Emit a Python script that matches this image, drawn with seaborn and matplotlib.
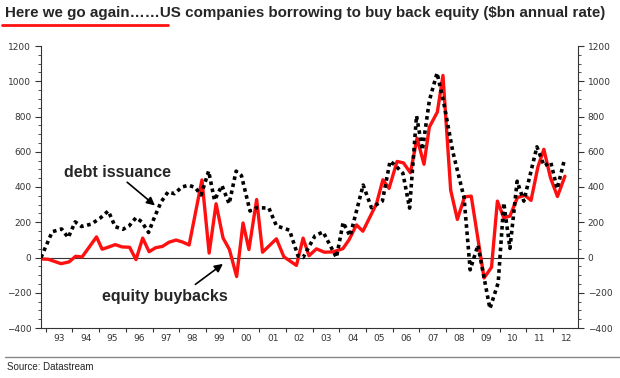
import numpy as np
import pandas as pd
import matplotlib
matplotlib.use("Agg")
import matplotlib.pyplot as plt
import seaborn as sns
from matplotlib.ticker import MultipleLocator, FixedLocator, FixedFormatter

sns.set_style("white")
plt.rcParams['font.family'] = ['Liberation Sans', 'DejaVu Sans']

# equity buybacks ($bn annual rate), decimal year
buyback_dates = [1992.82, 1993.09, 1993.57, 1993.87, 1994.12, 1994.36, 1994.90, 1995.11,
                 1995.33, 1995.60, 1995.86, 1996.14, 1996.38, 1996.63, 1996.87, 1997.11,
                 1997.37, 1997.62, 1997.88, 1998.12, 1998.37, 1998.85, 1999.12, 1999.38,
                 1999.64, 1999.88, 2000.15, 2000.39, 2000.61, 2000.90, 2001.12, 2001.64,
                 2001.92, 2002.39, 2002.64, 2002.86, 2003.14, 2003.44, 2003.76, 2004.13,
                 2004.36, 2004.64, 2004.88, 2005.39, 2005.63, 2005.86, 2006.16, 2006.40,
                 2006.66, 2006.91, 2007.17, 2007.37, 2007.67, 2007.88, 2008.17, 2008.42,
                 2008.69, 2008.94, 2009.42, 2009.70, 2009.92, 2010.16, 2010.39, 2010.67,
                 2010.95, 2011.18, 2011.44, 2011.66, 2011.91, 2012.17, 2012.45]
buyback_values = [-8, -10, -35, -25, 7, 3, 117, 47,
                  58, 73, 60, 58, -12, 110, 33, 55,
                  63, 87, 99, 88, 71, 440, 25, 305,
                  111, 45, -108, 196, 45, 329, 30, 106,
                  4, -45, 110, 10, 49, 30, 32, 50,
                  100, 185, 149, 305, 441, 392, 545, 537,
                  481, 677, 529, 740, 825, 1033, 382, 216,
                  344, 348, -116, -55, 320, 225, 235, 340,
                  353, 324, 515, 614, 452, 346, 461]

# debt issuance ($bn annual rate), decimal year
debt_dates = [1992.82, 1993.24, 1993.59, 1993.84, 1994.10, 1994.34, 1994.70, 1995.05,
              1995.34, 1995.60, 1995.89, 1996.12, 1996.38, 1996.59, 1996.85, 1997.07,
              1997.32, 1997.58, 1997.82, 1998.10, 1998.35, 1998.59, 1998.82, 1999.10,
              1999.32, 1999.60, 1999.87, 2000.13, 2000.33, 2000.65, 2000.91, 2001.36,
              2001.64, 2002.13, 2002.45, 2002.64, 2003.09, 2003.39, 2003.89, 2004.14,
              2004.40, 2004.89, 2005.20, 2005.61, 2005.90, 2006.12, 2006.38, 2006.63,
              2006.89, 2007.11, 2007.37, 2007.66, 2007.92, 2008.25, 2008.67, 2008.90,
              2009.19, 2009.64, 2009.95, 2010.16, 2010.39, 2010.66, 2010.91, 2011.40,
              2011.67, 2011.92, 2012.16, 2012.44]
debt_values = [0, 146, 162, 113, 202, 176, 189, 225,
               264, 175, 160, 179, 226, 203, 142, 228,
               315, 372, 362, 400, 410, 398, 355, 490,
               325, 408, 305, 490, 465, 264, 283, 280,
               180, 155, 9, 0, 124, 145, 0, 199,
               122, 411, 283, 320, 547, 519, 478, 280,
               804, 610, 890, 1047, 870, 600, 340, -70,
               70, -290, -143, 310, 52, 433, 320, 628,
               520, 540, 390, 560]

year_labels = ['93', '94', '95', '96', '97', '98', '99', '00', '01', '02',
               '03', '04', '05', '06', '07', '08', '09', '10', '11', '12']

buybacks = pd.DataFrame({'date': buyback_dates, 'value': buyback_values})
debt = pd.DataFrame({'date': debt_dates, 'value': debt_values})

fig = plt.figure(figsize=(6.2, 3.78), dpi=100)
ax = fig.add_axes([41 / 620, 1 - 328 / 378, (578 - 41) / 620, (328 - 46) / 378])

ax.axhline(0, color='#333333', lw=0.8, zorder=1)
sns.lineplot(data=debt, x='date', y='value', ax=ax, color='black', lw=2.6,
             linestyle=(0, (1, 1)), zorder=3)
sns.lineplot(data=buybacks, x='date', y='value', ax=ax, color='#ff1010', lw=2.4, zorder=2)

ax.set_xlim(1992.82, 2012.94)
ax.set_ylim(-400, 1200)
ax.yaxis.set_major_locator(MultipleLocator(200))
ax.yaxis.set_minor_locator(MultipleLocator(50))
years = 1993 + np.arange(len(year_labels) + 1)
ax.xaxis.set_major_locator(FixedLocator(years))
ax.xaxis.set_major_formatter(FixedFormatter([''] * len(years)))
ax.xaxis.set_minor_locator(FixedLocator(years[:-1] + 0.5))
ax.xaxis.set_minor_formatter(FixedFormatter(year_labels))
ax.set_xlabel('')
ax.set_ylabel('')

for s in ['left', 'right', 'bottom']:
    ax.spines[s].set_color('#333333')
    ax.spines[s].set_linewidth(0.8)
ax.spines['top'].set_visible(False)

ax.tick_params(axis='y', which='both', left=True, right=True, labelleft=True, labelright=True,
               direction='out', color='#333333', labelsize=6.5, labelcolor='#333333')
ax.tick_params(axis='y', which='major', length=4, width=0.8, pad=3)
ax.tick_params(axis='y', which='minor', length=2, width=0.6)
ax.tick_params(axis='x', which='major', bottom=True, length=3, width=0.8, color='#333333')
ax.tick_params(axis='x', which='minor', bottom=True, length=0, labelsize=6.5,
               labelcolor='#333333', pad=4)
for lab in ax.get_yticklabels() + ax.get_xticklabels(which='minor'):
    lab.set_family('DejaVu Sans')

ax.text(1993.69, 483, 'debt issuance', fontsize=11.5, fontweight='bold', va='center', ha='left')
ax.annotate('', xy=(1997.17, 285), xytext=(1995.97, 437),
            arrowprops=dict(arrowstyle='-|>', color='black', lw=1.2, mutation_scale=12))
ax.text(1995.10, -219, 'equity buybacks', fontsize=11.5, fontweight='bold', va='center', ha='left')
ax.annotate('', xy=(1999.72, -27), xytext=(1998.52, -162),
            arrowprops=dict(arrowstyle='-|>', color='black', lw=1.2, mutation_scale=12))

fig.text(5 / 620, 1 - 13 / 378, 'Here we go again……US companies borrowing to buy back equity ($bn annual rate)',
         fontsize=10.9, fontweight='bold', va='center', ha='left')
fig.add_artist(plt.Line2D([2 / 620, 168 / 620], [1 - 25 / 378, 1 - 25 / 378], color='#ff1010', lw=2))
fig.add_artist(plt.Line2D([5 / 620, 1.0], [1 - 357 / 378, 1 - 357 / 378], color='#888888', lw=1))
fig.text(7 / 620, 1 - 367 / 378, 'Source: Datastream', fontsize=7, va='center', ha='left')

fig.savefig('out.png', dpi=100)
